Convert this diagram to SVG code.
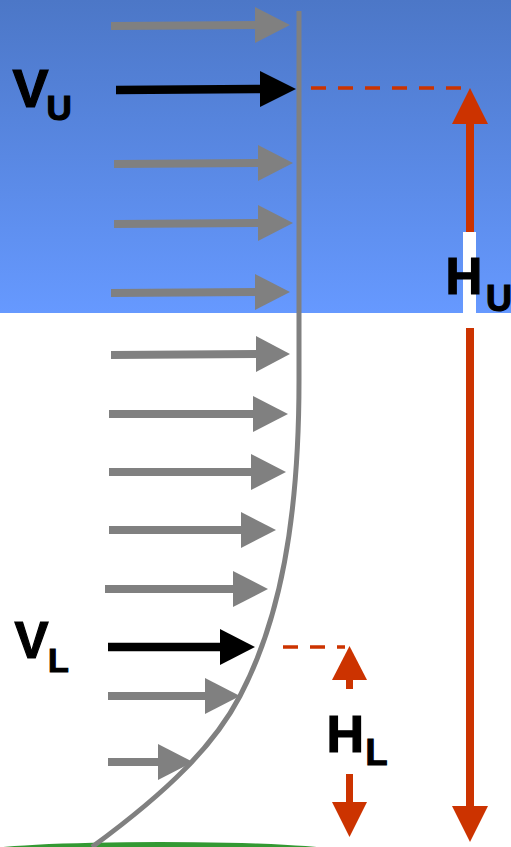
<svg xmlns="http://www.w3.org/2000/svg" width="511" height="847" viewBox="0 0 511 847">
  <defs>
    <linearGradient id="sky" x1="0" y1="0" x2="0" y2="1">
      <stop offset="0" stop-color="#4C77C7"/>
      <stop offset="1" stop-color="#6699FF"/>
    </linearGradient>
    <style>
      .shaft { stroke: #808080; stroke-width: 8; fill: none; }
      .head { fill: #808080; }
      .kshaft { stroke: #000; stroke-width: 8.5; fill: none; }
      .khead { fill: #000; }
      .red { stroke: #CC3300; fill: none; }
      .redfill { fill: #CC3300; }
      .dash { stroke: #CC3300; stroke-width: 3.5; stroke-dasharray: 15 12; fill: none; }
      .lbl { font-family: "Liberation Sans", Arial, sans-serif; font-weight: bold; fill: #000; stroke: #000; stroke-width: 1.2; }
      .profile { stroke: #808080; stroke-width: 5; fill: none; }
    </style>
  </defs>

  <rect x="0" y="0" width="511" height="847" fill="#FFFFFF"/>
  <rect id="sky-band" x="0" y="0" width="511" height="313" fill="url(#sky)"/>
  <ellipse id="ground" cx="160" cy="851" rx="175" ry="9" fill="#339933"/>

  <g id="connectors">
    <!-- velocity arrows -->
    <line class="shaft" x1="111" y1="26" x2="258" y2="25"/><polygon class="head" points="255,7 290,25 255,43"/>
    <line class="kshaft" x1="116" y1="90" x2="263" y2="89"/><polygon class="khead" points="260,71 296,89 260,107"/>
    <line class="shaft" x1="114" y1="164" x2="261" y2="163"/><polygon class="head" points="258,145 293,163 258,181"/>
    <line class="shaft" x1="114" y1="224" x2="261" y2="223"/><polygon class="head" points="258,205 293,223 258,241"/>
    <line class="shaft" x1="111" y1="293" x2="258" y2="292"/><polygon class="head" points="255,274 290,292 255,310"/>
    <line class="shaft" x1="111" y1="355" x2="259" y2="354"/><polygon class="head" points="256,336 290,354 256,372"/>
    <line class="shaft" x1="109" y1="414" x2="256" y2="414"/><polygon class="head" points="253,396 288,414 253,432"/>
    <line class="shaft" x1="109" y1="472" x2="254" y2="472"/><polygon class="head" points="251,454 286,472 251,490"/>
    <line class="shaft" x1="109" y1="530" x2="244" y2="530"/><polygon class="head" points="241,512 276,530 241,548"/>
    <line class="shaft" x1="105" y1="589" x2="236" y2="589"/><polygon class="head" points="233,571 268,589 233,607"/>
    <line class="kshaft" x1="108" y1="647" x2="223" y2="647"/><polygon class="khead" points="220,629 255,647 220,665"/>
    <line class="shaft" x1="108" y1="696" x2="208" y2="696"/><polygon class="head" points="205,678 240,696 205,714"/>
    <line class="shaft" x1="108" y1="762" x2="161" y2="762"/><polygon class="head" points="158,744 193,762 158,780"/>

    <!-- velocity profile -->
    <path class="profile" d="M299,11 L299,380 C299,520 280,620 240,696 C215,744 170,790 92,847"/>

    <!-- height markers -->
    <line class="dash" x1="311" y1="88" x2="462" y2="88"/>
    <line class="dash" x1="283" y1="647" x2="345" y2="647"/>

    <!-- H_U double arrow -->
    <line class="red" stroke-width="8" x1="470" y1="122" x2="470" y2="808"/>
    <polygon class="redfill" points="470,88 488,124 452,124"/>
    <polygon class="redfill" points="452,806 488,806 470,842"/>

    <!-- H_L arrows -->
    <line class="red" stroke-width="7" x1="349.5" y1="678" x2="349.5" y2="689"/>
    <polygon class="redfill" points="349.5,646 367,680 332,680"/>
    <line class="red" stroke-width="7" x1="349.5" y1="774" x2="349.5" y2="804"/>
    <polygon class="redfill" points="332,802 367,802 349.5,837"/>
  </g>

  <g id="label-HU">
    <rect x="463" y="232" width="13" height="96" fill="#FFFFFF"/>
    <text class="lbl" x="445.5" y="294" font-size="51">H</text>
    <text class="lbl" x="486" y="311" font-size="36">U</text>
  </g>
  <g id="label-VU">
    <text class="lbl" x="12.5" y="107" font-size="54">V</text>
    <text class="lbl" x="46.5" y="120" font-size="35">U</text>
  </g>
  <g id="label-VL">
    <text class="lbl" x="14.5" y="658" font-size="51">V</text>
    <text class="lbl" x="48" y="672" font-size="34">L</text>
  </g>
  <g id="label-HL">
    <text class="lbl" x="326.5" y="752" font-size="52">H</text>
    <text class="lbl" x="365.5" y="765" font-size="36">L</text>
  </g>
</svg>
